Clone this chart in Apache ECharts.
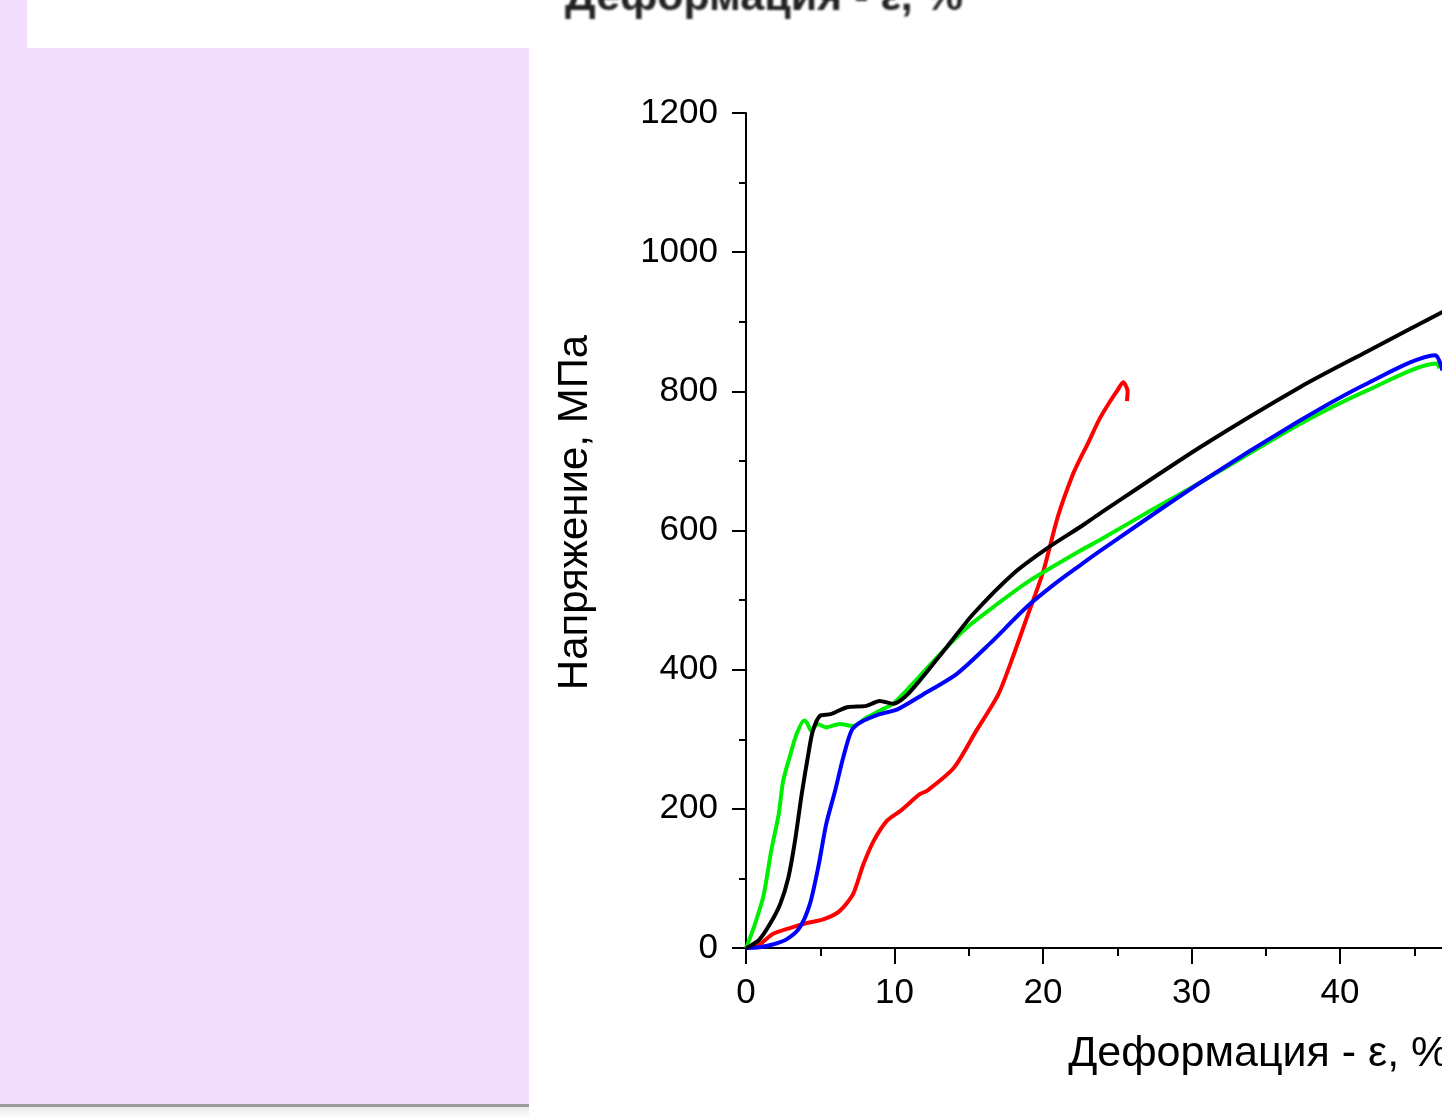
<!DOCTYPE html>
<html>
<head>
<meta charset="utf-8">
<title>Напряжение — деформация</title>
<script src="https://cdn.jsdelivr.net/npm/echarts@6/dist/echarts.min.js"></script>
<style>
  html, body { margin: 0; padding: 0; background: #fff; }
  body { width: 1442px; height: 1117px; overflow: hidden; position: relative; }
  #chart { position: absolute; left: 0; top: 0; width: 1850px; height: 1117px; }
  .pink { position: absolute; left: 0; top: 0; width: 529px; height: 1104px; background: #f3defe; }
  .whitebox { position: absolute; left: 27px; top: 0; width: 502px; height: 48px; background: #fff; }
  .shadow { position: absolute; left: 0; top: 1104px; width: 529px; height: 3px; background: #9b9a9f; }
  .shadow2 { position: absolute; left: 0; top: 1107px; width: 529px; height: 10px; background: linear-gradient(#e9e9ea, #fdfdfd); }
  .ghost {
    position: absolute; left: 565px; top: -26px;
    font-family: 'Liberation Sans', Arial, sans-serif; font-weight: bold; font-size: 43px; line-height: 43px;
    color: #222; filter: blur(0.8px); white-space: nowrap;
  }
</style>
</head>
<body>
<div id="chart"></div>
<div class="pink"></div>
<div class="whitebox"></div>
<div class="shadow"></div>
<div class="shadow2"></div>
<div class="ghost">Деформация - ε, %</div>
<script>
// strain, % / stress, MPa
const redCurve = [
  [0, 0], [0.9, 5], [1.8, 20], [3.0, 29], [4.1, 36], [5.2, 41], [6.3, 53], [7.2, 77],
  [7.9, 120], [8.6, 154], [9.5, 183], [10.4, 197], [11.7, 221], [12.2, 226], [14.0, 259],
  [15.5, 312], [17.0, 365], [18.0, 420], [19.0, 480], [20.0, 540], [21.0, 620], [22.0, 680],
  [22.5, 703], [23.0, 724], [23.8, 760], [24.5, 785], [25.0, 801], [25.4, 813], [25.7, 800], [25.65, 786]
];
const greenCurve = [
  [0, 0], [0.1, 5], [0.6, 34], [1.2, 77], [1.7, 140], [2.2, 192], [2.5, 240], [3.0, 279],
  [3.4, 307], [3.9, 327], [4.1, 324], [4.4, 312], [4.8, 322], [5.4, 317], [6.3, 322], [7.2, 319],
  [8.1, 331], [9.0, 341], [9.9, 351], [10.8, 370], [13.1, 423], [14.9, 461], [16.9, 494],
  [19.1, 528], [22.5, 571], [23.8, 586], [27.2, 628], [30.6, 669], [37.3, 753], [41.8, 801],
  [46.5, 840], [46.7, 833]
];
const blueCurve = [
  [0, 0], [0.9, 1], [1.8, 5], [2.7, 12], [3.6, 29], [4.3, 63], [4.9, 120], [5.4, 178],
  [6.0, 226], [6.55, 274], [7.1, 312], [7.7, 324], [9.0, 336], [10.2, 343], [11.9, 364],
  [14.2, 394], [16.4, 437], [18.9, 490], [20.9, 525], [22.5, 550], [23.8, 570], [30.6, 669],
  [37.3, 758], [41.8, 811], [46.4, 852], [46.9, 830]
];
const blackCurve = [
  [0, 0], [0.3, 3], [0.9, 12], [1.6, 34], [2.3, 63], [2.85, 101], [3.3, 154], [3.75, 221],
  [4.2, 279], [4.5, 312], [5.0, 334], [5.7, 336], [6.8, 346], [8.1, 348], [9.0, 355], [9.9, 351],
  [11.0, 367], [13.5, 432], [15.3, 480], [18.0, 538], [20.25, 574], [22.5, 605], [23.8, 624],
  [30.6, 720], [37.3, 806], [41.8, 857], [46.9, 914], [47.5, 921]
];

const xMax = 70;
const yMax = 1200;

const FONT = "'Liberation Sans', Arial, sans-serif";

const chart = echarts.init(document.getElementById('chart'), null, { renderer: 'canvas' });

const axisCommon = {
  axisLine: { show: true, lineStyle: { color: '#000', width: 2 } },
  splitLine: { show: false },
  axisLabel: { color: '#000', fontSize: 35, fontFamily: FONT, margin: 28, formatter: (v) => String(v) },
  nameTextStyle: { color: '#000', fontSize: 43, fontFamily: FONT }
};

const line = (data, color) => ({
  type: 'line',
  data: data,
  showSymbol: false,
  smooth: 0.25,
  lineStyle: { color: color, width: 4 },
  itemStyle: { color: color },
  animation: false
});

chart.setOption({
  animation: false,
  grid: { left: 746, top: 113, width: xMax * 14.85, height: 835 },
  xAxis: {
    ...axisCommon,
    type: 'value',
    min: 0,
    max: xMax,
    interval: 10,
    axisTick: { show: true, inside: false, length: 16, lineStyle: { color: '#000', width: 2 } },
    minorTick: { show: true, splitNumber: 2, length: 8, lineStyle: { color: '#000', width: 2 } },
    name: 'Деформация - ε, %',
    nameLocation: 'middle',
    nameGap: 85,
    nameTextStyle: { ...axisCommon.nameTextStyle, padding: [0, 14, 0, 0] }
  },
  yAxis: {
    ...axisCommon,
    type: 'value',
    min: 0,
    max: yMax,
    interval: 200,
    axisTick: { show: true, inside: false, length: 14, lineStyle: { color: '#000', width: 2 } },
    minorTick: { show: true, splitNumber: 2, length: 7, lineStyle: { color: '#000', width: 2 } },
    name: 'Напряжение, МПа',
    nameLocation: 'middle',
    nameRotate: 90,
    nameGap: 150,
    nameTextStyle: { ...axisCommon.nameTextStyle, fontSize: 42, padding: [0, 0, 0, 36] }
  },
  series: [
    line(redCurve, '#ff0000'),
    line(greenCurve, '#00ee00'),
    line(blueCurve, '#0000ff'),
    line(blackCurve, '#000000')
  ]
});
</script>
</body>
</html>
